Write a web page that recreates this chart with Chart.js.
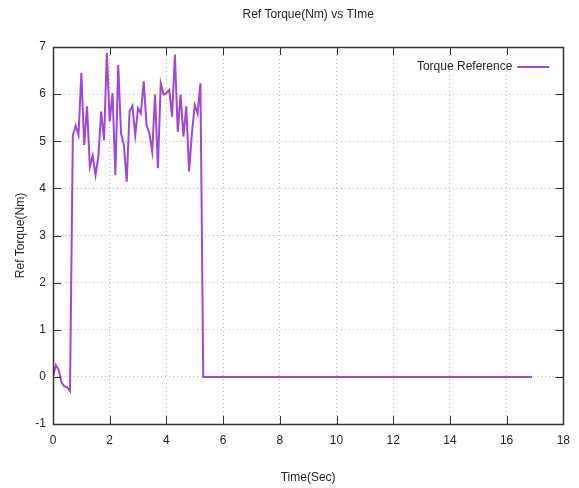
<!DOCTYPE html>
<html>
<head>
<meta charset="utf-8">
<script src="https://cdn.jsdelivr.net/npm/chart.js@4/dist/chart.umd.min.js"></script>
<style>
  html, body { margin: 0; padding: 0; background: #ffffff; }
  #wrap { width: 579px; height: 488px; }
</style>
</head>
<body>
<div id="wrap"><canvas id="c" width="579" height="488"></canvas></div>
<script>
// Reference torque command sampled every 0.1 s, then held at zero
const timeSec = [
  0.0, 0.1, 0.2, 0.3, 0.4, 0.5, 0.6, 0.7, 0.8, 0.9,
  1.0, 1.1, 1.2, 1.3, 1.4, 1.5, 1.6, 1.7, 1.8, 1.9,
  2.0, 2.1, 2.2, 2.3, 2.4, 2.5, 2.6, 2.7, 2.8, 2.9,
  3.0, 3.1, 3.2, 3.3, 3.4, 3.5, 3.6, 3.7, 3.8, 3.9,
  4.0, 4.1, 4.2, 4.3, 4.4, 4.5, 4.6, 4.7, 4.8, 4.9,
  5.0, 5.1, 5.2, 5.3, 16.9
];
const torqueNm = [
  0.00, 0.25, 0.15, -0.12, -0.20, -0.22, -0.30, 5.13, 5.33, 5.13,
  6.45, 4.92, 5.74, 4.46, 4.69, 4.28, 4.68, 5.63, 5.02, 6.87,
  5.42, 6.02, 4.28, 6.62, 5.17, 4.92, 4.14, 5.63, 5.75, 5.13,
  5.70, 5.59, 6.27, 5.34, 5.17, 4.78, 5.99, 4.43, 6.23, 5.99,
  6.02, 6.09, 5.52, 6.84, 5.20, 5.99, 5.10, 5.74, 4.36, 5.17,
  5.77, 5.59, 6.23, 0.00, 0.00
];
const xTickValues = [0, 2, 4, 6, 8, 10, 12, 14, 16, 18];
const yTickValues = [-1, 0, 1, 2, 3, 4, 5, 6, 7];

const chartTitle = 'Ref Torque(Nm) vs TIme';
const xAxisTitle = 'Time(Sec)';
const yAxisTitle = 'Ref Torque(Nm)';
const seriesLabel = 'Torque Reference';

const LINE_COLOR = '#a046d8';
const TEXT_COLOR = '#262626';
const FONT_FAMILY = '"Liberation Sans", Arial, sans-serif';
const baseFont = { family: FONT_FAMILY, size: 12 };

const points = timeSec.map((t, i) => ({ x: t, y: torqueNm[i] }));

// Frame, inward/mirrored tick marks, title and in-plot legend
const decorations = {
  id: 'decorations',
  afterDraw(chart) {
    const { ctx, chartArea: a, scales } = chart;
    const xs = scales.x, ys = scales.y;
    const tick = 8;
    ctx.save();
    ctx.strokeStyle = '#333333';
    ctx.lineWidth = 1;
    ctx.beginPath();
    xTickValues.forEach(v => {
      const px = Math.round(xs.getPixelForValue(v)) + 0.5;
      ctx.moveTo(px, a.bottom); ctx.lineTo(px, a.bottom - tick);
      ctx.moveTo(px, a.top); ctx.lineTo(px, a.top + tick);
    });
    yTickValues.forEach(v => {
      const py = Math.round(ys.getPixelForValue(v)) + 0.5;
      ctx.moveTo(a.left, py); ctx.lineTo(a.left + tick, py);
      ctx.moveTo(a.right, py); ctx.lineTo(a.right - tick, py);
    });
    ctx.stroke();
    ctx.lineWidth = 1.5;
    ctx.strokeRect(Math.round(a.left) + 0.5, Math.round(a.top) + 0.5,
                   Math.round(a.right - a.left), Math.round(a.bottom - a.top));

    // title
    ctx.fillStyle = TEXT_COLOR;
    ctx.font = '12px ' + FONT_FAMILY;
    ctx.textAlign = 'center';
    ctx.textBaseline = 'middle';
    ctx.fillText(chartTitle, (a.left + a.right) / 2, 15);

    // legend
    const ly = a.top + 20;
    ctx.textAlign = 'right';
    ctx.fillText(seriesLabel, a.right - 51, ly);
    ctx.strokeStyle = LINE_COLOR;
    ctx.lineWidth = 2;
    ctx.beginPath();
    ctx.moveTo(a.right - 46, ly);
    ctx.lineTo(a.right - 14, ly);
    ctx.stroke();
    ctx.restore();
  }
};

new Chart(document.getElementById('c'), {
  type: 'line',
  data: {
    datasets: [{
      label: seriesLabel,
      data: points,
      borderColor: LINE_COLOR,
      backgroundColor: LINE_COLOR,
      borderWidth: 2,
      pointRadius: 0,
      tension: 0,
      fill: false
    }]
  },
  options: {
    responsive: false,
    animation: false,
    devicePixelRatio: 1,
    layout: { padding: { top: 47, right: 12, left: 0, bottom: 0 } },
    plugins: {
      legend: { display: false },
      title: { display: false },
      tooltip: { enabled: false }
    },
    scales: {
      x: {
        type: 'linear',
        min: 0, max: 18,
        afterBuildTicks(s) { s.ticks = xTickValues.map(v => ({ value: v })); },
        afterFit(s) { s.height = 64; },
        ticks: { color: TEXT_COLOR, font: baseFont, padding: 9, maxRotation: 0 },
        grid: { color: '#bdbdbd', lineWidth: 1, drawTicks: false },
        border: { display: false, dash: [1, 3] },
        title: {
          display: true, text: xAxisTitle, color: TEXT_COLOR, font: baseFont,
          padding: { top: 0, bottom: 3 }
        }
      },
      y: {
        type: 'linear',
        min: -1, max: 7,
        afterBuildTicks(s) { s.ticks = yTickValues.map(v => ({ value: v })); },
        afterFit(s) { s.width = 53; },
        ticks: { color: TEXT_COLOR, font: baseFont, padding: 7 },
        grid: { color: '#bdbdbd', lineWidth: 1, drawTicks: false },
        border: { display: false, dash: [1, 3] },
        title: {
          display: true, text: yAxisTitle, color: TEXT_COLOR, font: baseFont,
          padding: { top: 13, bottom: 0 }
        }
      }
    }
  },
  plugins: [decorations]
});
</script>
</body>
</html>
